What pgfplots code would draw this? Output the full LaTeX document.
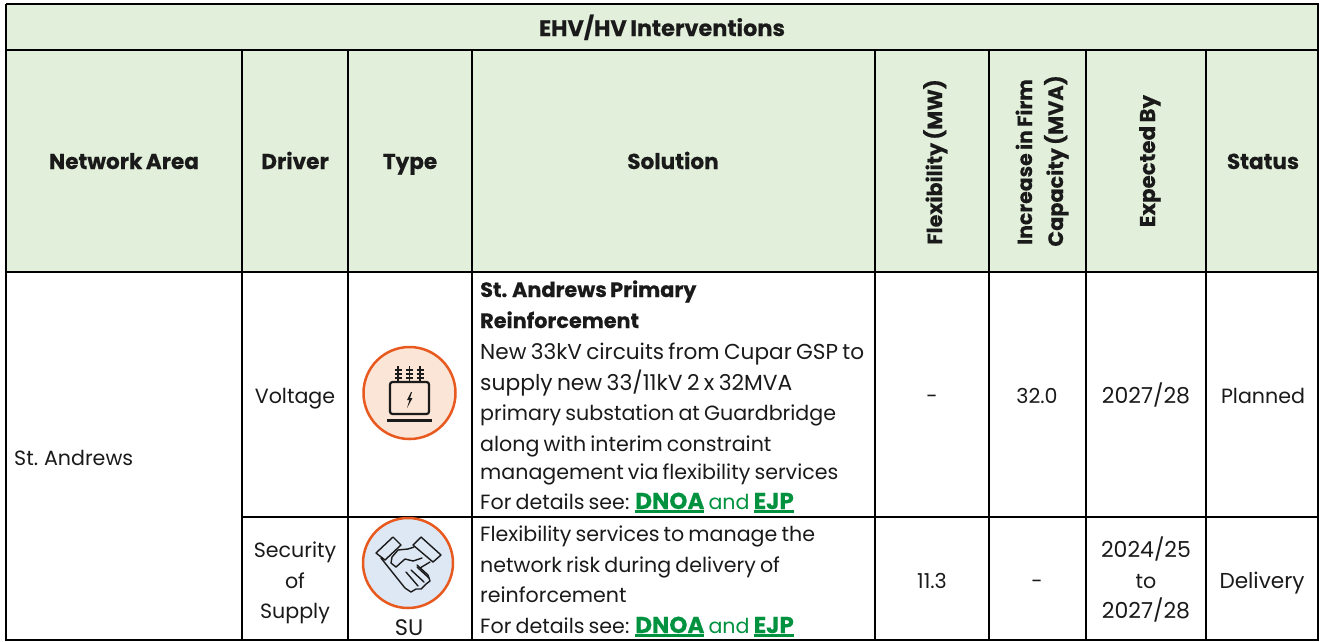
\documentclass[border=0pt]{standalone}
\usepackage{pgfplots}
\pgfplotsset{compat=1.18}
\usepackage{fontspec}
\setmainfont{Poppins}[WordSpace=0.75,BoldFeatures={FakeBold=0.35}]
\definecolor{hdr}{HTML}{E2EFDA}
\definecolor{lnk}{HTML}{00923F}
\definecolor{org}{HTML}{E8591F}
\definecolor{pch}{HTML}{FBE5D6}
\definecolor{blu}{HTML}{DEE8F4}
\definecolor{ink}{HTML}{1A1A1A}
\newcommand{\bodyfs}{\fontsize{20.6}{24}\selectfont}
\newcommand{\headfs}{\fontsize{21.6}{24}\bfseries\selectfont}
\newcommand{\fs}[1]{\fontsize{#1}{24}\selectfont}
\newcommand{\cellL}[3]{\node[anchor=base west,inner sep=0pt,text=ink] at (axis cs:#1,#2) {\bodyfs #3};}
\newcommand{\cellC}[3]{\node[anchor=base,inner sep=0pt,text=ink] at (axis cs:#1,#2) {\bodyfs #3};}
\newcommand{\cellH}[3]{\node[anchor=base,inner sep=0pt,text=ink] at (axis cs:#1,#2) {\headfs #3};}
\newcommand{\cellV}[4]{\node[anchor=base,inner sep=0pt,text=ink,rotate=90] at (axis cs:#1,#2) {\fontsize{#4}{24}\bfseries\selectfont #3};}
\newcommand{\lk}[1]{\setbox0\hbox{\fs{23}\bfseries\color{lnk}#1}{\color{lnk}\rlap{\rule[-3.5pt]{\wd0}{2.4pt}}}\box0\relax}
\newcommand{\post}[3]{%
  \draw[ink,line width=1.6pt] (axis cs:#2,366) -- (axis cs:#2,382);
  \draw[ink,line width=1.6pt] (axis cs:#1,370) -- (axis cs:#3,370);
  \draw[ink,line width=1.6pt] (axis cs:#1,374) -- (axis cs:#3,374);
  \draw[ink,line width=1.6pt] (axis cs:#1,378) -- (axis cs:#3,378);}
\begin{document}
\begin{tikzpicture}
\begin{axis}[
  width=1321pt,height=641pt,scale only axis,
  xmin=0,xmax=1321,ymin=0,ymax=641,y dir=reverse,
  hide axis,clip=true]
\path (axis cs:0,0) rectangle (axis cs:1321,641);
% header background
\addplot[draw=none,fill=hdr] coordinates {(6,4)(1318,4)(1318,272)(6,272)(6,4)};
% grid lines
\addplot[black,line width=2pt] coordinates {(6,4)(1318,4)(1318,640)(6,640)(6,4)};
\addplot[black,line width=2pt] coordinates {(6,50)(1318,50)};
\addplot[black,line width=2pt] coordinates {(6,272)(1318,272)};
\addplot[black,line width=2pt] coordinates {(242,517)(1318,517)};
\addplot[black,line width=2pt] coordinates {(242,50)(242,640)};
\addplot[black,line width=2pt] coordinates {(348,50)(348,640)};
\addplot[black,line width=2pt] coordinates {(472,50)(472,640)};
\addplot[black,line width=2pt] coordinates {(875,50)(875,640)};
\addplot[black,line width=2pt] coordinates {(989,50)(989,640)};
\addplot[black,line width=2pt] coordinates {(1086,50)(1086,640)};
\addplot[black,line width=2pt] coordinates {(1206,50)(1206,640)};
% headers
\cellH{662}{36}{\fs{22.4}\bfseries EHV/HV Interventions}
\cellH{124}{169}{Network Area}
\cellH{295}{169}{Driver}
\cellH{410}{169}{Type}
\cellH{673}{169}{Solution}
\cellH{1263}{169}{Status}
\cellV{942}{162}{Flexibility (MW)}{20.6}
\cellV{1032}{162}{Increase in Firm}{20.5}
\cellV{1063}{161}{Capacity (MVA)}{20.8}
\cellV{1155}{161}{Expected By}{21.4}
% row 1
\cellL{14}{465}{St. Andrews}
\cellC{295}{403}{Voltage}
\node[anchor=base west,inner sep=0pt,text=ink] at (axis cs:480,297) {\fs{20.8}\bfseries St. Andrews Primary};
\node[anchor=base west,inner sep=0pt,text=ink] at (axis cs:480,328) {\fs{20.8}\bfseries Reinforcement};
\cellL{480}{359}{\fs{21.6}New 33kV circuits from Cupar GSP to}
\cellL{480}{390}{\fs{21.8}supply new 33/11kV 2 x 32MVA}
\cellL{480}{420}{primary substation at Guardbridge}
\cellL{480}{451}{along with interim constraint}
\cellL{480}{479}{management via flexibility services}
\cellL{480}{509}{For details see: \lk{DNOA} and \lk{EJP}}
\cellC{932}{403}{-}
\cellC{1037}{403}{32.0}
\cellC{1146}{403}{\fs{22}2027/28}
\cellC{1263}{403}{Planned}
% row 2
\cellC{295}{557}{Security}
\cellC{295}{588}{of}
\cellC{295}{618}{Supply}
\cellC{409}{635}{\fs{22.5}SU}
\cellL{480}{541}{Flexibility services to manage the}
\cellL{480}{572}{network risk during delivery of}
\cellL{480}{602}{reinforcement}
\cellL{480}{633}{For details see: \lk{DNOA} and \lk{EJP}}
\cellC{932}{588}{11.3}
\cellC{1037}{588}{-}
\cellC{1146}{557}{\fs{22}2024/25}
\cellC{1146}{588}{to}
\cellC{1146}{618}{\fs{22}2027/28}
\cellC{1262}{588}{\fs{21.6}Delivery}
% transformer icon
\draw[org,fill=pch,line width=2.5pt] (axis cs:409.5,393) circle[radius=46];
\draw[ink,line width=2.2pt,rounded corners=2.5pt] (axis cs:390,382) rectangle (axis cs:429,414);
\draw[ink,line width=2.2pt] (axis cs:387,420.5) -- (axis cs:432,420.5);
\post{394.5}{398}{401.5}
\post{406}{409.5}{413}
\post{416.5}{420}{423.5}
\fill[ink] (axis cs:411,392) -- (axis cs:407,400) -- (axis cs:409.5,400) -- (axis cs:407,408) -- (axis cs:412.5,398) -- (axis cs:410,398) -- (axis cs:412,392) -- cycle;
% handshake icon
\draw[org,fill=blu,line width=2.5pt] (axis cs:408,563) circle[radius=45];
\begin{scope}[ink,line width=1.4pt,line join=round,line cap=round]
\draw (axis cs:376,553) -- (axis cs:393,537) -- (axis cs:401,545) -- (axis cs:385,560) -- cycle;
\draw (axis cs:421,537) -- (axis cs:441,555) -- (axis cs:433,562) -- (axis cs:413,545) -- cycle;
\draw (axis cs:381,558) -- (axis cs:405,588) -- (axis cs:411,592) -- (axis cs:416,589) -- (axis cs:421,589) -- (axis cs:426,584) -- (axis cs:430,581) -- (axis cs:428,575) -- (axis cs:417,565);
\draw (axis cs:414,547) -- (axis cs:408,549) -- (axis cs:398,550) -- (axis cs:392,557) -- (axis cs:391,563) -- (axis cs:396,567) -- (axis cs:405,559) -- (axis cs:413,561) -- (axis cs:422,558);
\draw (axis cs:430,562) -- (axis cs:420,568) ;
\draw (axis cs:406,572) -- (axis cs:418,586);
\draw (axis cs:411,570) -- (axis cs:424,582);
\draw (axis cs:417,567) -- (axis cs:429,578);
\end{scope}
\end{axis}
\end{tikzpicture}
\end{document}
